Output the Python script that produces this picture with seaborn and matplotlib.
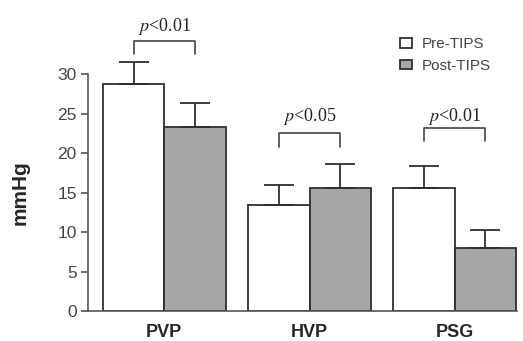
import pandas as pd
import seaborn as sns
import matplotlib.pyplot as plt

# values
categories = ['PVP', 'HVP', 'PSG']
groups = ['Pre-TIPS', 'Post-TIPS']
pre_mean = [28.7, 13.4, 15.6]
post_mean = [23.3, 15.6, 8.0]
pre_err = [2.8, 2.6, 2.8]
post_err = [3.1, 3.0, 2.3]
p_labels = ['$p$<0.01', '$p$<0.05', '$p$<0.01']

df = pd.DataFrame({
    'site': categories * 2,
    'group': [groups[0]] * 3 + [groups[1]] * 3,
    'mmHg': pre_mean + post_mean,
})

# bracket heights / label heights for the significance marks
bracket_y = [34.2, 22.5, 23.2]
label_y = [36.0, 24.6, 24.6]

sns.set_style('white')
plt.rcParams['font.family'] = ['Liberation Sans', 'DejaVu Sans']
plt.rcParams['mathtext.fontset'] = 'stix'

fig = plt.figure(figsize=(5.23, 3.41), dpi=100)
ax = fig.add_axes([0.168, 0.088, 0.821, 0.912])

sns.barplot(data=df, x='site', y='mmHg', hue='group', ax=ax,
            palette=['white', '#a6a6a6'], width=0.845,
            edgecolor='#2e2e2e', linewidth=1.3, errorbar=None)

# one-sided error bars on top of each bar
for cont, errs in zip(ax.containers, [pre_err, post_err]):
    for bar, e in zip(cont, errs):
        xc = bar.get_x() + bar.get_width() / 2
        h = bar.get_height()
        ax.errorbar(xc, h, yerr=[[0], [e]], fmt='none', ecolor='#2e2e2e',
                    elinewidth=1.3, capsize=10.5, capthick=1.3)

# significance brackets
for i, (lab, yb, yl) in enumerate(zip(p_labels, bracket_y, label_y)):
    x0, x1 = i - 0.21, i + 0.21
    ax.plot([x0, x0, x1, x1], [yb - 1.7, yb, yb, yb - 1.7],
            color='#444444', lw=1.2, clip_on=False)
    ax.text(i, yl, lab, ha='center', va='center', fontsize=13,
            fontfamily='Liberation Serif', color='#222222')

ax.set_xlim(-0.526, 2.43)
ax.set_ylim(0, 39.4)
ax.set_yticks([0, 5, 10, 15, 20, 25, 30])
ax.spines['left'].set_bounds(0, 30)
for s in ['top', 'right']:
    ax.spines[s].set_visible(False)
for s in ['left', 'bottom']:
    ax.spines[s].set_color('#555555')
    ax.spines[s].set_linewidth(1.2)
ax.tick_params(axis='y', left=True, length=5, width=1.2, color='#555555',
               labelsize=12.5, labelcolor='#444444', pad=3)
ax.tick_params(axis='x', bottom=False, labelsize=13, pad=6)
for t in ax.get_xticklabels():
    t.set_fontweight('bold')
ax.set_xlabel('')
ax.set_ylabel('mmHg', fontsize=15, fontweight='bold')
ax.yaxis.set_label_coords(-0.135, 0.38)

ax.legend(loc='upper left', bbox_to_anchor=(0.709, 0.905), frameon=False,
          borderpad=0, fontsize=11, handlelength=0.8, handleheight=0.6,
          handletextpad=0.6, labelspacing=0.5, labelcolor='#444444')

fig.savefig('out.png', dpi=100)
